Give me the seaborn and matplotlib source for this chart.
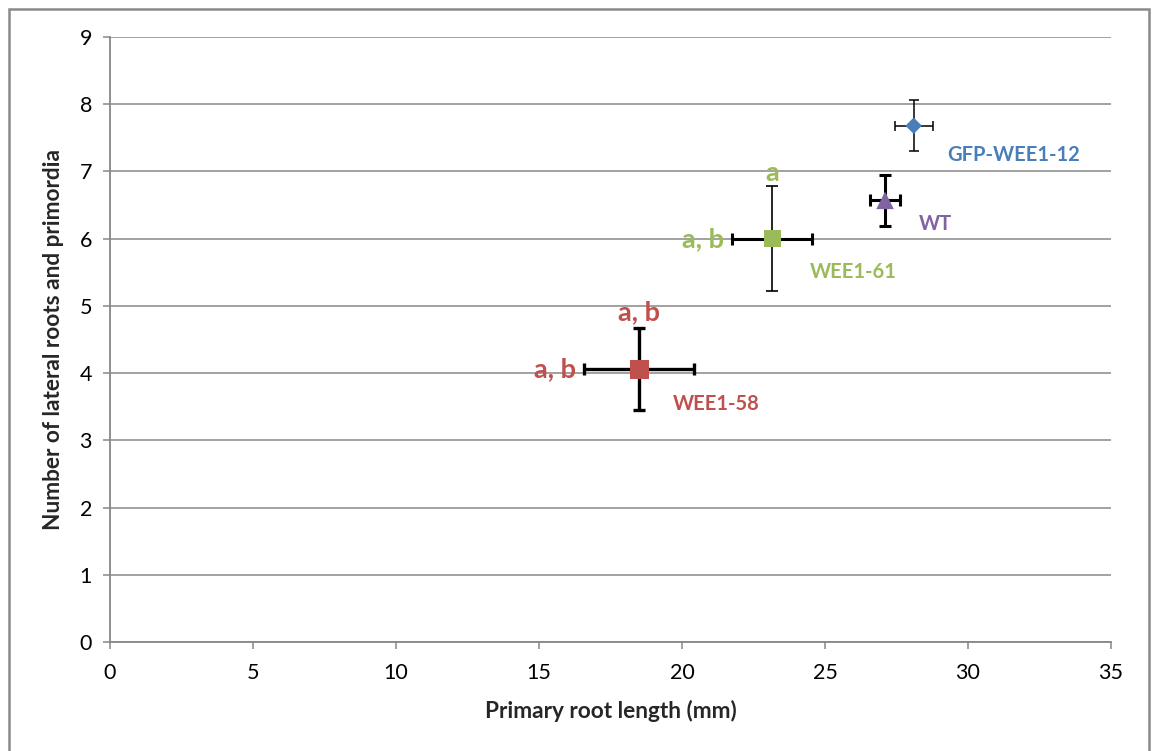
import matplotlib
matplotlib.use("Agg")
import matplotlib.pyplot as plt
import seaborn as sns
import pandas as pd
from matplotlib.patches import Rectangle

# ---- data ----
lines = ["GFP-WEE1-12", "WT", "WEE1-61", "WEE1-58"]
root_length = [28.1, 27.1, 23.15, 18.5]          # mm
root_length_err = [0.66, 0.52, 1.40, 1.91]
lateral_roots = [7.68, 6.57, 6.00, 4.06]
lateral_roots_err = [0.38, 0.38, 0.78, 0.61]
sig_top = ["", "", "a", "a, b"]
sig_left = ["", "", "a, b", "a, b"]
x_ticks = [0, 5, 10, 15, 20, 25, 30, 35]
y_ticks = [0, 1, 2, 3, 4, 5, 6, 7, 8, 9]

# ---- styles ----
colors = {"GFP-WEE1-12": "#4A7EBB", "WT": "#8064A2", "WEE1-61": "#9BBB59", "WEE1-58": "#C0504D"}
markers = {"GFP-WEE1-12": "D", "WT": "^", "WEE1-61": "s", "WEE1-58": "s"}
sizes = {"GFP-WEE1-12": 70, "WT": 160, "WEE1-61": 150, "WEE1-58": 185}
xerr_lw = {"GFP-WEE1-12": 1.1, "WT": 2.2, "WEE1-61": 2.2, "WEE1-58": 2.4}
yerr_lw = {"GFP-WEE1-12": 1.1, "WT": 2.2, "WEE1-61": 1.2, "WEE1-58": 2.4}
caps = {"GFP-WEE1-12": 3.8, "WT": 4.3, "WEE1-61": 4.3, "WEE1-58": 4.3}
# label placement offsets (points) relative to marker
name_pos = {"GFP-WEE1-12": (24, -21), "WT": (24, -17), "WEE1-61": (27, -24), "WEE1-58": (24, -25)}
top_pad = {"WEE1-61": 1, "WEE1-58": 3}

sns.set_theme(style="white")
plt.rcParams["font.family"] = ["Lato", "DejaVu Sans"]

fig = plt.figure(figsize=(11.55, 7.51), dpi=100)
ax = fig.add_axes([110 / 1155, 1 - 642 / 751, (1111 - 110) / 1155, (642 - 37) / 751])

df = pd.DataFrame({"line": lines, "x": root_length, "y": lateral_roots})

grid_c = "#878787"
for i, ln in enumerate(lines):
    ax.errorbar(root_length[i], lateral_roots[i], xerr=root_length_err[i], fmt="none",
                ecolor="black", elinewidth=xerr_lw[ln], capsize=caps[ln], capthick=xerr_lw[ln], zorder=2)
    ax.errorbar(root_length[i], lateral_roots[i], yerr=lateral_roots_err[i], fmt="none",
                ecolor="black", elinewidth=yerr_lw[ln], capsize=caps[ln], capthick=yerr_lw[ln], zorder=2)

sns.scatterplot(data=df, x="x", y="y", hue="line", style="line", size="line",
                palette=colors, markers=markers, sizes=sizes, linewidth=0,
                legend=False, ax=ax, zorder=3)

for i, ln in enumerate(lines):
    dx, dy = name_pos[ln]
    ax.annotate(ln, (root_length[i], lateral_roots[i]), xytext=(dx, dy), textcoords="offset points",
                ha="left", va="center", color=colors[ln], fontsize=14.5, fontweight="bold")
    if sig_top[i]:
        off = lateral_roots_err[i]
        ax.annotate(sig_top[i], (root_length[i], lateral_roots[i] + off), xytext=(0, top_pad[ln]),
                    textcoords="offset points", ha="center", va="bottom", color=colors[ln],
                    fontsize=19.5, fontweight="bold")
    if sig_left[i]:
        ax.annotate(sig_left[i], (root_length[i] - root_length_err[i], lateral_roots[i]), xytext=(-6, 0),
                    textcoords="offset points", ha="right", va="center", color=colors[ln],
                    fontsize=19.5, fontweight="bold")

ax.set_xlim(0, 35)
ax.set_ylim(0, 9)
ax.set_xticks(x_ticks)
ax.set_yticks(y_ticks)
ax.yaxis.grid(True, color=grid_c, linewidth=1.1)
ax.xaxis.grid(False)
ax.set_axisbelow(True)
for s in ["top", "right"]:
    ax.spines[s].set_visible(False)
for s in ["left", "bottom"]:
    ax.spines[s].set_color(grid_c)
    ax.spines[s].set_linewidth(1.3)
ax.tick_params(axis="both", direction="out", length=5, width=1.1, color=grid_c,
               labelsize=15.5, labelcolor="black", bottom=True, left=True)
ax.tick_params(axis="x", pad=10)
ax.tick_params(axis="y", pad=8)

ax.set_xlabel("Primary root length (mm)", fontsize=16.3, fontweight="bold", labelpad=12)
ax.set_ylabel("Number of lateral roots and primordia", fontsize=16.3, fontweight="bold", labelpad=11)

fig.patches.append(Rectangle((9 / 1155, -0.05), (1149 - 9) / 1155, 1.05 - 9.5 / 751,
                             transform=fig.transFigure, fill=False, edgecolor="#8a8a8a",
                             linewidth=1.8, zorder=10))

fig.savefig("out.png", dpi=100)
